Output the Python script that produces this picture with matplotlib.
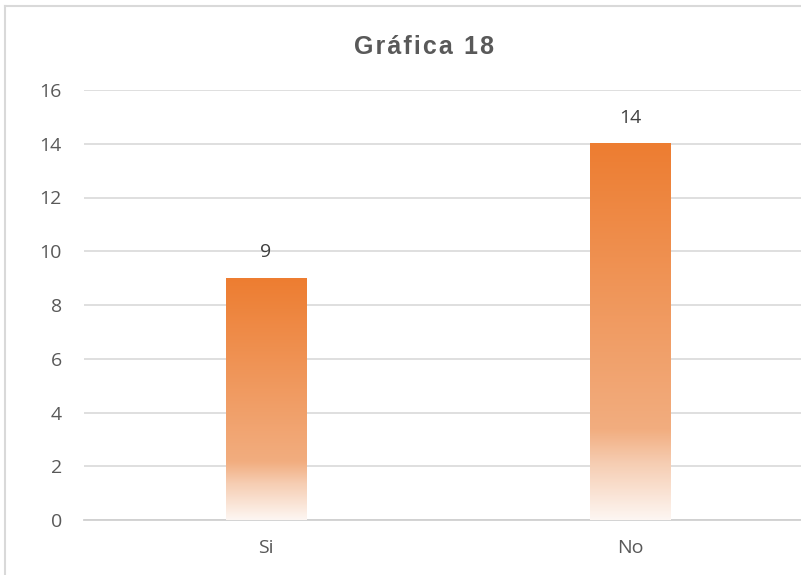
import matplotlib.pyplot as plt
import numpy as np
from matplotlib.colors import LinearSegmentedColormap
from matplotlib.lines import Line2D

plt.rcParams.update({'font.family': ['Open Sans', 'DejaVu Sans']})

# Datos
titulo = 'Gráfica 18'
categorias = ['Si', 'No']
valores = [9, 14]
yticks = [0, 2, 4, 6, 8, 10, 12, 14, 16]

# Degradado tipo Excel (arriba naranja -> abajo casi blanco)
grad = LinearSegmentedColormap.from_list('grad', [
    (0.0, '#fdf6f2'),
    (0.15, '#f6cdb2'),
    (0.24, '#f2ad7f'),
    (1.0, '#ed7d31'),
])

fig = plt.figure(figsize=(8.01, 5.75), dpi=100)
ax = fig.add_axes([84 / 801, 55 / 575, 717 / 801, 430 / 575])

x = np.arange(len(categorias))
ancho = 0.222
bars = ax.bar(x, valores, width=ancho, color='none', zorder=3)
g = np.linspace(0, 1, 256).reshape(-1, 1)
for b in bars:
    x0 = b.get_x()
    ax.imshow(g, cmap=grad, origin='lower', aspect='auto', zorder=3,
              extent=[x0, x0 + b.get_width(), 0, b.get_height()])

for xi, v in zip(x, valores):
    ax.annotate(str(v), (xi, v), xytext=(0, 12), textcoords='offset points',
                ha='center', va='bottom', fontsize=14, color='#404040')

ax.set_xlim(-0.5, 1.47)
ax.set_ylim(0, 16)
ax.set_yticks(yticks)
ax.set_xticks(x)
ax.set_xticklabels(categorias)
ax.tick_params(axis='both', length=0, labelsize=14, labelcolor='#595959')
ax.tick_params(axis='y', pad=16)
ax.tick_params(axis='x', pad=14)
ax.grid(axis='y', color='#d9d9d9', linewidth=1.2, zorder=0)
for s in ['top', 'right', 'left']:
    ax.spines[s].set_visible(False)
ax.spines['bottom'].set_color('#d0d0d0')
ax.spines['bottom'].set_linewidth(1.3)

# título con un poco de espaciado entre letras
titulo_esp = '\u200a'.join(titulo)
fig.text(424 / 801, 1 - 47 / 575, titulo_esp, ha='center', va='center',
         fontsize=18, fontweight='bold', color='#595959',
         family=['Liberation Sans', 'DejaVu Sans'])

# Borde del área del gráfico
fig.add_artist(Line2D([5 / 801, 5 / 801], [0, 1 - 6 / 575], transform=fig.transFigure,
                      color='#d9d9d9', linewidth=1.5))
fig.add_artist(Line2D([5 / 801, 1], [1 - 6 / 575, 1 - 6 / 575], transform=fig.transFigure,
                      color='#d9d9d9', linewidth=1.5))

plt.savefig('out.png', dpi=100)
